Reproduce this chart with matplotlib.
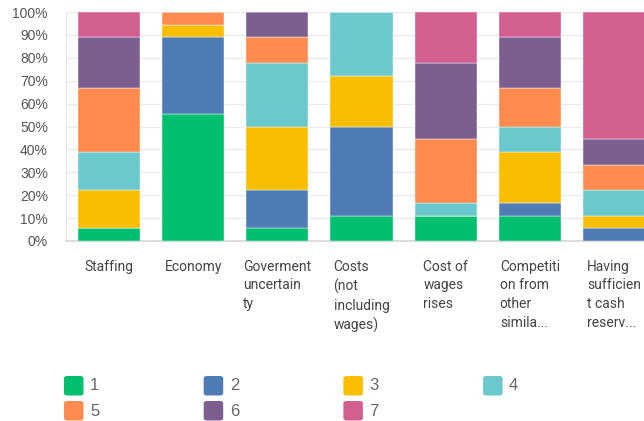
import matplotlib.pyplot as plt
from matplotlib.patches import FancyBboxPatch
import numpy as np

# Answers per rank (1 = most important ... 7 = least), 18 respondents per item
categories = ["Staffing", "Economy", "Goverment\nuncertain\nty",
              "Costs\n(not\nincluding\nwages)", "Cost of\nwages\nrises",
              "Competiti\non from\nother\nsimila...", "Having\nsufficien\nt cash\nreserv..."]
rank_1 = [1, 10, 1, 2, 2, 2, 0]
rank_2 = [0, 6, 3, 7, 0, 1, 1]
rank_3 = [3, 1, 5, 4, 0, 4, 1]
rank_4 = [3, 0, 5, 5, 1, 2, 2]
rank_5 = [5, 1, 2, 0, 5, 3, 2]
rank_6 = [4, 0, 2, 0, 6, 4, 2]
rank_7 = [2, 0, 0, 0, 4, 2, 10]
rank_names = ["1", "2", "3", "4", "5", "6", "7"]
colors = ["#00BF6F", "#507CB6", "#F9BE00", "#6BC8CD", "#FF8B4F", "#7D5E90", "#D25F90"]

counts = np.array([rank_1, rank_2, rank_3, rank_4, rank_5, rank_6, rank_7], dtype=float)
pct = counts / counts.sum(axis=0) * 100

W, H = 644, 421
fig = plt.figure(figsize=(W / 100, H / 100), dpi=100)
ax = fig.add_axes([66 / W, 1 - 241 / H, (W - 66) / W, 229 / H])

x = np.arange(len(categories))
bottom = np.zeros(len(categories))
for i in range(len(rank_names)):
    ax.bar(x, pct[i], width=0.738, bottom=bottom, color=colors[i],
           edgecolor="white", linewidth=0.3, zorder=3)
    bottom += pct[i]

ax.set_xlim(-0.512, 6.357)
ax.set_ylim(0, 100)
ax.set_yticks(np.arange(0, 101, 10))
ax.set_yticklabels([f"{v}%" for v in range(0, 101, 10)],
                   fontfamily="Liberation Sans", fontsize=10, color="#555555")
ax.set_xticks(x)
ax.set_xticklabels(categories, fontfamily="Roboto", fontsize=10, color="#444444",
                   linespacing=1.42, ma="left", va="top")
ax.tick_params(axis="x", length=0, pad=13.5)
ax.tick_params(axis="y", length=0, pad=13)
ax.grid(axis="y", color="#ebebeb", linewidth=1, zorder=0)
for side in ["top", "right"]:
    ax.spines[side].set_visible(False)
ax.spines["left"].set_color("#e6e6e6")
ax.spines["bottom"].set_color("#d6d6d6")
ax.spines["bottom"].set_linewidth(1.2)

# Legend: two rows of rounded swatches
for i, name in enumerate(rank_names):
    col, row = i % 4, i // 4
    x0 = (64 + col * 139.7) / W
    yc = 1 - (386 + row * 25) / H
    sw = FancyBboxPatch((x0, yc - 9.5 / H), 19.5 / W, 19.5 / H,
                        boxstyle="round,pad=0,rounding_size=0.005",
                        transform=fig.transFigure, facecolor=colors[i],
                        edgecolor="none")
    fig.patches.append(sw)
    fig.text(x0 + 26 / W, yc, name, fontfamily="Liberation Sans", fontsize=12,
             color="#666666", va="center", ha="left")

fig.savefig("out.png", dpi=100)
